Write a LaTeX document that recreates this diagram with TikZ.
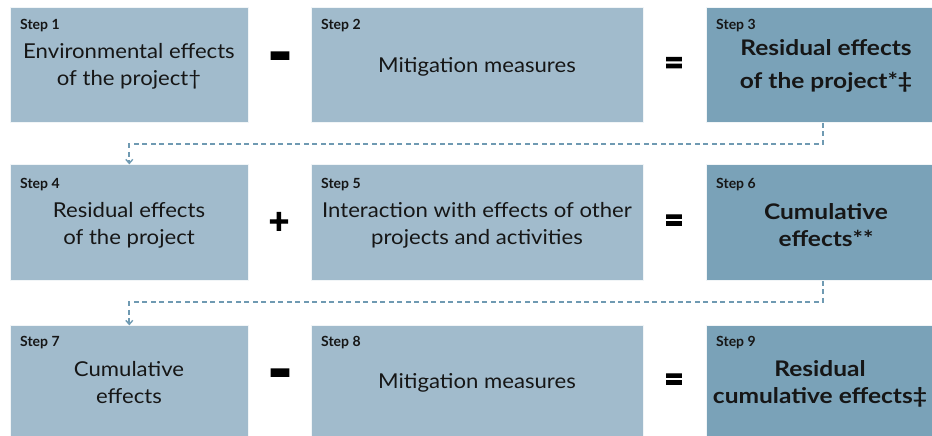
\documentclass[tikz,border=0pt]{standalone}
\usepackage{fontspec}
\usepackage{graphicx}
\setmainfont{Lato}
\newfontfamily\bodyfont[FakeStretch=1.08]{Lato}
\newfontfamily\boldfont[FakeStretch=1.14]{Lato}
\newfontfamily\opfont[FakeBold=2.5]{Lato}
\usetikzlibrary{arrows.meta}
\definecolor{boxlight}{HTML}{A1BBCC}
\definecolor{boxdark}{HTML}{7AA2B8}
\definecolor{dashc}{HTML}{6F9AB2}
\definecolor{txt}{HTML}{161616}
\tikzset{
  box/.style={draw=white!85!boxlight, line width=0.6pt, anchor=south west, inner sep=0pt},
  lbox/.style={box, fill=boxlight},
  dbox/.style={box, fill=boxdark},
  steplbl/.style={anchor=west, font=\fontsize{14}{14}\selectfont\bfseries, text=txt, inner sep=0pt},
  body/.style={align=center, font=\bodyfont\fontsize{20.5}{27}\selectfont, text=txt, inner sep=0pt},
  bbody/.style={align=center, font=\boldfont\fontsize{21.5}{33}\selectfont\bfseries, text=txt, inner sep=0pt},
  op/.style={font=\opfont\fontsize{30}{30}\selectfont\bfseries, text=black, inner sep=0pt},
  flow/.style={draw=dashc, line width=1.8pt, dash pattern=on 5pt off 3.5pt, -{Straight Barb[length=4pt,width=7pt,line width=1.4pt]}}
}
\newcommand{\opminus}{\scalebox{1.35}[2.4]{−}}
\newcommand{\opequals}{\scalebox{1.12}[1.3]{=}}
\newcommand{\opplus}{\scalebox{1.2}[1.2]{+}}
\begin{document}
\begin{tikzpicture}[x=1pt,y=1pt]
\useasboundingbox (0,0) rectangle (932,436);
% row 1
\node[lbox, minimum width=238, minimum height=115] (b1) at (10,313) {};
\node[lbox, minimum width=332, minimum height=115] (b2) at (311,313) {};
\node[dbox, minimum width=228, minimum height=115] (b3) at (706,313) {};
% row 2
\node[lbox, minimum width=238, minimum height=116] (b4) at (10,155) {};
\node[lbox, minimum width=332, minimum height=116] (b5) at (311,155) {};
\node[dbox, minimum width=228, minimum height=116] (b6) at (706,155) {};
% row 3
\node[lbox, minimum width=238, minimum height=112] (b7) at (10,-2) {};
\node[lbox, minimum width=332, minimum height=112] (b8) at (311,-2) {};
\node[dbox, minimum width=228, minimum height=112] (b9) at (706,-2) {};

% step labels
\node[steplbl] (s1) at (20,410) {Step 1};
\node[steplbl] (s2) at (321,410) {Step 2};
\node[steplbl] (s3) at (716,410) {Step 3};
\node[steplbl] (s4) at (20,251) {Step 4};
\node[steplbl] (s5) at (321,251) {Step 5};
\node[steplbl] (s6) at (716,251) {Step 6};
\node[steplbl] (s7) at (20,93) {Step 7};
\node[steplbl] (s8) at (321,93) {Step 8};
\node[steplbl] (s9) at (716,93) {Step 9};

% texts
\node[body] (t1) at (129,370) {Environmental effects\\of the project†};
\node[body] (t2) at (477,369) {Mitigation measures};
\node[bbody] (t3) at (826,370) {Residual effects\\of the project*‡};
\node[body] (t4) at (129,211) {Residual effects\\of the project};
\node[body] (t5) at (477,211) {Interaction with effects of other\\projects and activities};
\node[bbody, font=\boldfont\fontsize{21.5}{27}\selectfont\bfseries] (t6) at (826,211) {Cumulative\\effects**};
\node[body] (t7) at (129,53) {Cumulative\\effects};
\node[body] (t8) at (477,53) {Mitigation measures};
\node[bbody, font=\boldfont\fontsize{21.5}{27}\selectfont\bfseries] (t9) at (820,52) {Residual\\cumulative effects‡};

% operators
\node[op] (o1) at (280,370) {\opminus};
\node[op] (o2) at (674,369.5) {\opequals};
\node[op] (o3) at (279,213) {\opplus};
\node[op] (o4) at (674,212) {\opequals};
\node[op] (o5) at (280,53) {\opminus};
\node[op] (o6) at (674,53) {\opequals};

% connectors
\draw[flow] (b3.south -| 823,0) -- (823,292) -| (b4.north);
\draw[flow] (b6.south -| 823,0) -- (823,134) -| (b7.north);
\end{tikzpicture}
\end{document}
